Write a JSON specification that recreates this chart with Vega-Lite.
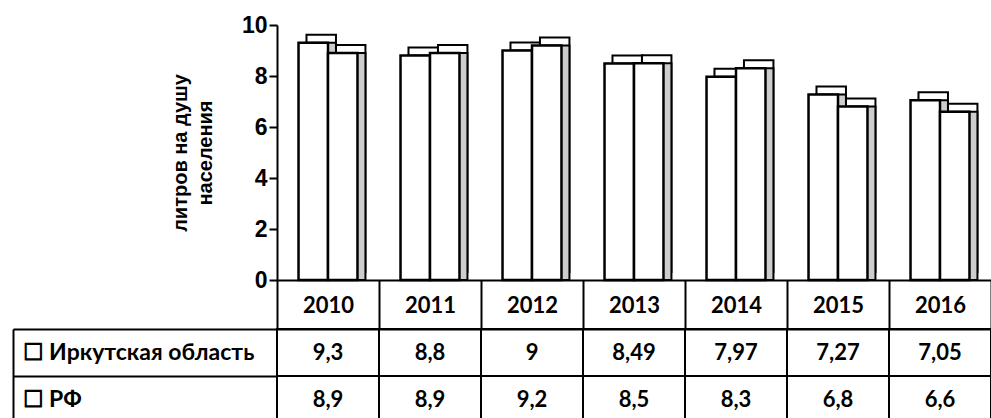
{
  "$schema": "https://vega.github.io/schema/vega-lite/v6.json",
  "padding": {"left": 12, "top": 14, "right": 0, "bottom": 0},
  "spacing": 49,
  "bounds": "flush",
  "data": {
    "values": [
      {"year": "2010", "region": "Иркутская область", "value": 9.3},
      {"year": "2010", "region": "РФ", "value": 8.9},
      {"year": "2011", "region": "Иркутская область", "value": 8.8},
      {"year": "2011", "region": "РФ", "value": 8.9},
      {"year": "2012", "region": "Иркутская область", "value": 9},
      {"year": "2012", "region": "РФ", "value": 9.2},
      {"year": "2013", "region": "Иркутская область", "value": 8.49},
      {"year": "2013", "region": "РФ", "value": 8.5},
      {"year": "2014", "region": "Иркутская область", "value": 7.97},
      {"year": "2014", "region": "РФ", "value": 8.3},
      {"year": "2015", "region": "Иркутская область", "value": 7.27},
      {"year": "2015", "region": "РФ", "value": 6.8},
      {"year": "2016", "region": "Иркутская область", "value": 7.05},
      {"year": "2016", "region": "РФ", "value": 6.6}
    ]
  },
  "config": {
    "view": {"stroke": null},
    "locale": {"number": {"decimal": ",", "thousands": " ", "grouping": [3], "currency": ["", " руб."]}},
    "axis": {"domainColor": "black", "tickColor": "black", "labelColor": "black", "titleColor": "black", "grid": false}
  },
  "vconcat": [
    {
      "width": 714,
      "height": 255,
      "resolve": {"scale": {"xOffset": "independent"}},
      "encoding": {
        "x": {"field": "year", "type": "ordinal", "scale": {"paddingInner": 0, "paddingOuter": 0},
              "axis": {"title": null, "labels": false, "ticks": false, "domainWidth": 2}},
        "y": {"field": "value", "type": "quantitative", "scale": {"domain": [0, 10]},
              "axis": {"values": [0, 2, 4, 6, 8, 10], "labelFont": "Liberation Sans", "labelFontWeight": "bold",
                       "labelFontSize": 23, "tickSize": 8, "tickWidth": 2, "domainWidth": 2, "labelPadding": 2,
                       "title": ["литров на душу", "населения"], "titleFont": "Liberation Sans", "titleFontWeight": "bold",
                       "titleFontSize": 20, "titlePadding": 26, "titleLineHeight": 25}}
      },
      "layer": [
        {
          "mark": {"type": "bar", "fill": "white", "stroke": "black", "strokeWidth": 2, "yOffset": -8, "y2Offset": -8},
          "encoding": {
            "xOffset": {"field": "region", "type": "nominal", "sort": ["Иркутская область", "РФ"],
                        "scale": {"paddingInner": 0, "paddingOuter": 0.73, "align": 0.685}}
          }
        },
        {
          "mark": {"type": "bar", "fill": "#cdcdcd", "stroke": "black", "strokeWidth": 2},
          "encoding": {
            "xOffset": {"field": "region", "type": "nominal", "sort": ["Иркутская область", "РФ"],
                        "scale": {"paddingInner": 0, "paddingOuter": 0.73, "align": 0.685}}
          }
        },
        {
          "mark": {"type": "bar", "fill": "white", "stroke": "black", "strokeWidth": 2.5},
          "encoding": {
            "xOffset": {"field": "region", "type": "nominal", "sort": ["Иркутская область", "РФ"],
                        "scale": {"paddingInner": 0, "paddingOuter": 0.73, "align": 0.5}}
          }
        }
      ]
    },
    {
      "width": 714,
      "height": 94,
      "resolve": {"axis": {"y": "independent"}},
      "encoding": {
        "x": {"field": "year", "type": "ordinal", "scale": {"paddingInner": 0, "paddingOuter": 0},
              "axis": {"orient": "top", "title": null, "tickBand": "extent", "tickSize": 49, "tickWidth": 2,
                       "domainWidth": 2, "labelPadding": -25, "labelBaseline": "middle", "labelAngle": 0,
                       "labelFont": "Lato", "labelFontWeight": "bold", "labelFontSize": 22}}
      },
      "layer": [
        {
          "mark": {"type": "rect", "fill": "white", "stroke": "black", "strokeWidth": 2},
          "encoding": {
            "y": {"field": "region", "type": "nominal", "sort": ["Иркутская область", "РФ"],
                  "scale": {"paddingInner": 0, "paddingOuter": 0},
                  "axis": {"orient": "left", "title": null, "labels": false, "domain": false,
                           "tickBand": "extent", "tickSize": 264, "tickWidth": 2}}
          }
        },
        {
          "mark": {"type": "text", "font": "Lato", "fontWeight": "bold", "fontSize": 22, "color": "black"},
          "encoding": {
            "y": {"field": "region", "type": "nominal", "sort": ["Иркутская область", "РФ"],
                  "scale": {"paddingInner": 0, "paddingOuter": 0},
                  "axis": {"orient": "left", "offset": 264, "title": null, "ticks": false, "domainWidth": 2,
                           "labelAlign": "left", "labelPadding": -9, "labelExpr": "'☐ ' + datum.label",
                           "labelFont": "Lato", "labelFontWeight": "bold", "labelFontSize": 23, "labelLimit": 300}},
            "text": {"field": "value", "type": "quantitative", "format": "~g"}
          }
        }
      ]
    }
  ]
}
